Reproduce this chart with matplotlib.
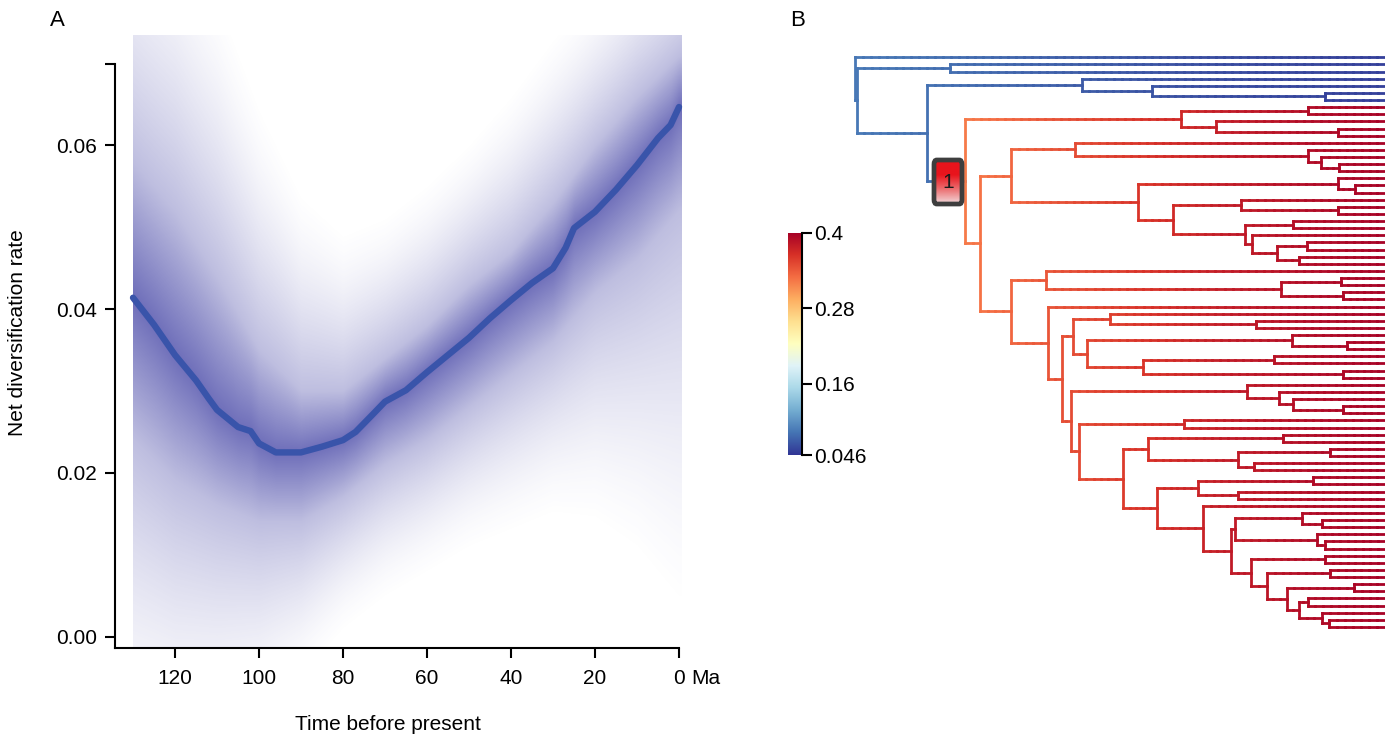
import numpy as np
import matplotlib
matplotlib.use("Agg")
import matplotlib.pyplot as plt
from matplotlib.collections import LineCollection
from matplotlib.colors import Normalize, LinearSegmentedColormap
from matplotlib.patches import FancyBboxPatch

plt.rcParams['font.family'] = ['Liberation Sans', 'DejaVu Sans']

# ---------------- panel A data ----------------
rtt_time = [130, 125, 120, 115, 112, 110, 105, 102, 100, 96, 90, 85, 80, 77, 73, 70,
            65, 60, 55, 50, 45, 40, 35, 30, 27, 25, 20, 15, 10, 5, 2, 0]
rtt_mean = [0.0414, 0.0381, 0.0344, 0.0313, 0.0291, 0.0277, 0.0256, 0.0251, 0.0236,
            0.0225, 0.0225, 0.0232, 0.0240, 0.0250, 0.0271, 0.0287, 0.0301, 0.0323,
            0.0344, 0.0365, 0.0389, 0.0411, 0.0432, 0.0450, 0.0475, 0.0499, 0.0519,
            0.0546, 0.0576, 0.0609, 0.0625, 0.0647]

# envelope of the shaded rate density
band_time = [130, 120, 110, 100, 90, 80, 70, 60, 50, 40, 30, 20, 10, 0]
band_hi_out = [0.095, 0.090, 0.080, 0.066, 0.055, 0.050, 0.052, 0.056, 0.061, 0.067, 0.074, 0.080, 0.086, 0.090]
band_hi_mid = [0.058, 0.052, 0.044, 0.035, 0.030, 0.030, 0.034, 0.038, 0.043, 0.047, 0.053, 0.060, 0.066, 0.071]
band_lo_mid = [0.024, 0.019, 0.016, 0.014, 0.014, 0.017, 0.021, 0.024, 0.028, 0.032, 0.036, 0.042, 0.046, 0.052]
band_lo_out = [-0.016, -0.016, -0.014, -0.011, -0.006, 0.000, 0.004, 0.007, 0.010, 0.012, 0.014, 0.013, 0.009, 0.002]

x_ticks = [120, 100, 80, 60, 40, 20, 0]
y_ticks = [0.0, 0.02, 0.04, 0.06, 0.07]
y_ticklabels = ['0.00', '0.02', '0.04', '0.06', '']

# ---------------- panel B data ----------------
# clades written as newick pieces, internal labels = node age (Ma)
H2 = "(t,((t,t)19.2,(t,t)21.0)26.4)32.5"
G2 = "((t,t)22.5," + H2 + ")34.3"
F2 = "((t,(t,t)11.5)35.2," + G2 + ")52.1"
E2 = "((t,(t,t)7.4)11.6," + F2 + ")60.7"
E1 = "(t,(t,(t,(t,t)11.3)15.7)18.8)76.0"
D1 = "(" + E1 + "," + E2 + ")91.8"
E3 = "(t,((t,t)10.8,(t,t)10.2)25.4)83.2"
H4 = "((t,(t,t)9.4)22.9,((t,t)27.2,(t,t)10.2)59.4)73.0"
G3 = "((t,(t,t)31.7)67.5," + H4 + ")76.6"
H5 = "(t,(t,(t,(t,t)10.2)22.6)26.0)33.9"
J1 = "((t,t)24.9,((t,t)13.5,(t,t)32.1)36.0)58.2"
K1 = "((t,t)17.6,(t,t)36.0)45.8"
M1 = "((t,(t,t)15.5)20.3,(t,(t,t)14.7)16.8)36.8"
M2 = "((t,t)14.7,((t,t)13.5,((t,t)7.5,((t,t)19.0,(t,(t,t)13.7)15.5)21.1)24.1)29.0)32.9"
K2 = "(t,(" + M1 + "," + M2 + ")37.8)44.6"
I4 = "(" + J1 + ",(" + K1 + "," + K2 + ")56.0)64.3"
G4 = "(" + H5 + ",((t,t)49.3," + I4 + ")75.0)77.1"
D2 = "(" + E3 + ",(t,(" + G3 + "," + G4 + ")79.2)82.6)91.8"
C1 = "((t,t)18.9,(t,(t,t)11.6)41.5)50.0"
N4 = "(" + C1 + ",(" + D1 + "," + D2 + ")99.3)103.0"
tree_newick = "(t,((t,t)106.7,((t,(t,(t,t)14.7)57.2)74.4," + N4 + ")112.3)129.6)130.0;"
shift_age = 103.0

bg_age = [130, 110, 75, 40, 0]
bg_rate = [0.084, 0.079, 0.068, 0.058, 0.052]
sh_age = [103, 80, 60, 40, 20, 0]
sh_rate = [0.322, 0.345, 0.362, 0.378, 0.390, 0.398]

cbar_ticks = [0.046, 0.16, 0.28, 0.4]
cbar_labels = ['0.046', '0.16', '0.28', '0.4']

W, H = 1385, 740
fig = plt.figure(figsize=(W / 100, H / 100), dpi=100)


def px_axes(x0, y0, x1, y1):
    return fig.add_axes([x0 / W, 1 - y1 / H, (x1 - x0) / W, (y1 - y0) / H])


################################################################################
# Panel A

ax = px_axes(115, 35, 700, 648)
ax.set_xlim(134.29, -5)
ax.set_ylim(-0.0014, 0.0735)

t_grid = np.linspace(130, -0.5, 500)
v_grid = np.linspace(-0.0014, 0.0735, 600)
bt = np.array(band_time)[::-1]
def at(arr):
    return np.interp(t_grid, bt, np.array(arr)[::-1])
hi_o, hi_m, lo_m, lo_o = at(band_hi_out), at(band_hi_mid), at(band_lo_mid), at(band_lo_out)
mid = np.interp(t_grid, np.array(rtt_time)[::-1], np.array(rtt_mean)[::-1])

field = np.zeros((len(v_grid), len(t_grid)))
for j in range(len(t_grid)):
    v = v_grid
    f = np.zeros_like(v)
    # core: linear from the mean to the inner band
    up = (v >= mid[j]) & (v < hi_m[j])
    f[up] = 1 - 0.55 * (v[up] - mid[j]) / (hi_m[j] - mid[j])
    dn = (v < mid[j]) & (v > lo_m[j])
    f[dn] = 1 - 0.55 * (mid[j] - v[dn]) / (mid[j] - lo_m[j])
    # tails fade out towards the outer band
    tu = (v >= hi_m[j]) & (v < hi_o[j])
    f[tu] = 0.45 * (1 - (v[tu] - hi_m[j]) / (hi_o[j] - hi_m[j])) ** 1.6
    td = (v <= lo_m[j]) & (v > lo_o[j])
    f[td] = 0.45 * (1 - (lo_m[j] - v[td]) / (lo_m[j] - lo_o[j])) ** 1.6
    field[:, j] = f

img = np.ones((len(v_grid), len(t_grid), 4))
img[..., 0] = 0.33
img[..., 1] = 0.33
img[..., 2] = 0.68
img[..., 3] = field * 0.85
ax.imshow(img, extent=(130, -0.5, v_grid[0], v_grid[-1]), origin='lower',
          aspect='auto', interpolation='bilinear', zorder=1)

ax.plot(rtt_time, rtt_mean, color='#3954aa', lw=4.6,
        solid_capstyle='round', solid_joinstyle='round', zorder=3)

for s in ['top', 'right']:
    ax.spines[s].set_visible(False)
ax.spines['left'].set_bounds(-0.0014, 0.07)
ax.spines['bottom'].set_bounds(0, 134.29)
for s in ['left', 'bottom']:
    ax.spines[s].set_linewidth(1.5)
ax.set_xticks(x_ticks)
ax.set_xticklabels([str(v) for v in x_ticks])
ax.set_yticks(y_ticks)
ax.set_yticklabels(y_ticklabels)
ax.tick_params(axis='both', length=7, width=1.5, labelsize=15)
ax.tick_params(axis='x', pad=8)
ax.tick_params(axis='y', pad=6)
ax.text(-2.8, -(7 + 8) * 100 / 72 / 613, 'Ma', transform=ax.get_xaxis_transform(),
        ha='left', va='top', fontsize=15)

fig.text(18 / W, 1 - 333 / H, 'Net diversification rate', rotation=90,
         ha='center', va='center', fontsize=15)
fig.text(388 / W, 1 - 724 / H, 'Time before present', ha='center', va='center', fontsize=15)
fig.text(57 / W, 1 - 20 / H, 'A', ha='center', va='center', fontsize=16)
fig.text(798 / W, 1 - 20 / H, 'B', ha='center', va='center', fontsize=16)

################################################################################
# Panel B : tree


def parse_newick(s):
    pos = 0

    def node():
        nonlocal pos
        children = []
        if s[pos] == '(':
            pos += 1
            children.append(node())
            while s[pos] == ',':
                pos += 1
                children.append(node())
            pos += 1
        start = pos
        while pos < len(s) and s[pos] not in ',();':
            pos += 1
        label = s[start:pos]
        age = float(label) if children else 0.0
        return {'children': children, 'age': age}
    return node()


root = parse_newick(tree_newick)

tip_count = [0]
def layout(n, shifted=False):
    if n['age'] == shift_age:
        shifted = True
    n['shift'] = shifted
    if not n['children']:
        tip_count[0] += 1
        n['y'] = tip_count[0]
    else:
        for c in n['children']:
            layout(c, shifted)
        n['y'] = 0.5 * (n['children'][0]['y'] + n['children'][-1]['y'])
layout(root)

cmap = plt.get_cmap('RdYlBu_r')
norm = Normalize(0.046, 0.4)

def rate_at(age, shifted):
    if shifted:
        return np.interp(age, sh_age[::-1], sh_rate[::-1])
    return np.interp(age, bg_age[::-1], bg_rate[::-1])

segs, cols = [], []
vsegs, vcols = [], []
def collect(n):
    for c in n['children']:
        a0, a1 = n['age'], c['age']
        edges = np.linspace(a0, a1, max(2, int((a0 - a1) / 2.0) + 2))
        reg = c['shift'] and c['age'] != shift_age
        for k in range(len(edges) - 1):
            segs.append([(edges[k], c['y']), (edges[k + 1], c['y'])])
            cols.append(cmap(norm(rate_at(0.5 * (edges[k] + edges[k + 1]), reg))))
        collect(c)
    if n['children']:
        vsegs.append([(n['age'], n['children'][0]['y']), (n['age'], n['children'][-1]['y'])])
        vcols.append(cmap(norm(rate_at(n['age'], n['shift']))))
collect(root)

tax = px_axes(845, 40, 1385, 640)
tax.set_xlim(132.45, 0)
tax.set_ylim(82.84, -1.43)
tax.axis('off')
tax.add_collection(LineCollection(segs, colors=cols, linewidths=2.0, capstyle='projecting'))
tax.add_collection(LineCollection(vsegs, colors=vcols, linewidths=2.0, capstyle='projecting'))

# shift marker
bax = px_axes(934, 160, 962, 204)
bax.axis('off')
grad_cmap = LinearSegmentedColormap.from_list('shift', ['#f2dadc', '#ec7072', '#e8141c', '#e8141c'])
im = bax.imshow(np.linspace(0, 1, 100)[:, None], cmap=grad_cmap, origin='lower',
                extent=(0, 1, 0, 1), aspect='auto')
box = FancyBboxPatch((0, 0), 1, 1, boxstyle='round,pad=0,rounding_size=0.1',
                     transform=bax.transAxes, fc='none', ec='#3e3e3e', lw=3.4, clip_on=False)
bax.add_patch(box)
im.set_clip_path(box)
bax.set_xlim(0, 1)
bax.set_ylim(0, 1)
bax.text(0.5, 0.5, '1', ha='center', va='center', fontsize=15, color='#1a1a1a')

# colour bar
cax = px_axes(788, 233, 802, 455)
cax.imshow(np.linspace(0.046, 0.4, 256)[:, None], cmap=cmap, norm=norm, origin='lower',
           extent=(0, 1, 0.046, 0.4), aspect='auto')
cax.set_xlim(0, 1)
cax.set_ylim(0.046, 0.4)
for s in ['left', 'top', 'bottom']:
    cax.spines[s].set_visible(False)
cax.spines['right'].set_linewidth(1.5)
cax.set_xticks([])
cax.yaxis.tick_right()
cax.set_yticks(cbar_ticks)
cax.set_yticklabels(cbar_labels)
cax.tick_params(axis='y', length=7, width=1.5, labelsize=15, pad=2)

fig.savefig('out.png', dpi=100)
